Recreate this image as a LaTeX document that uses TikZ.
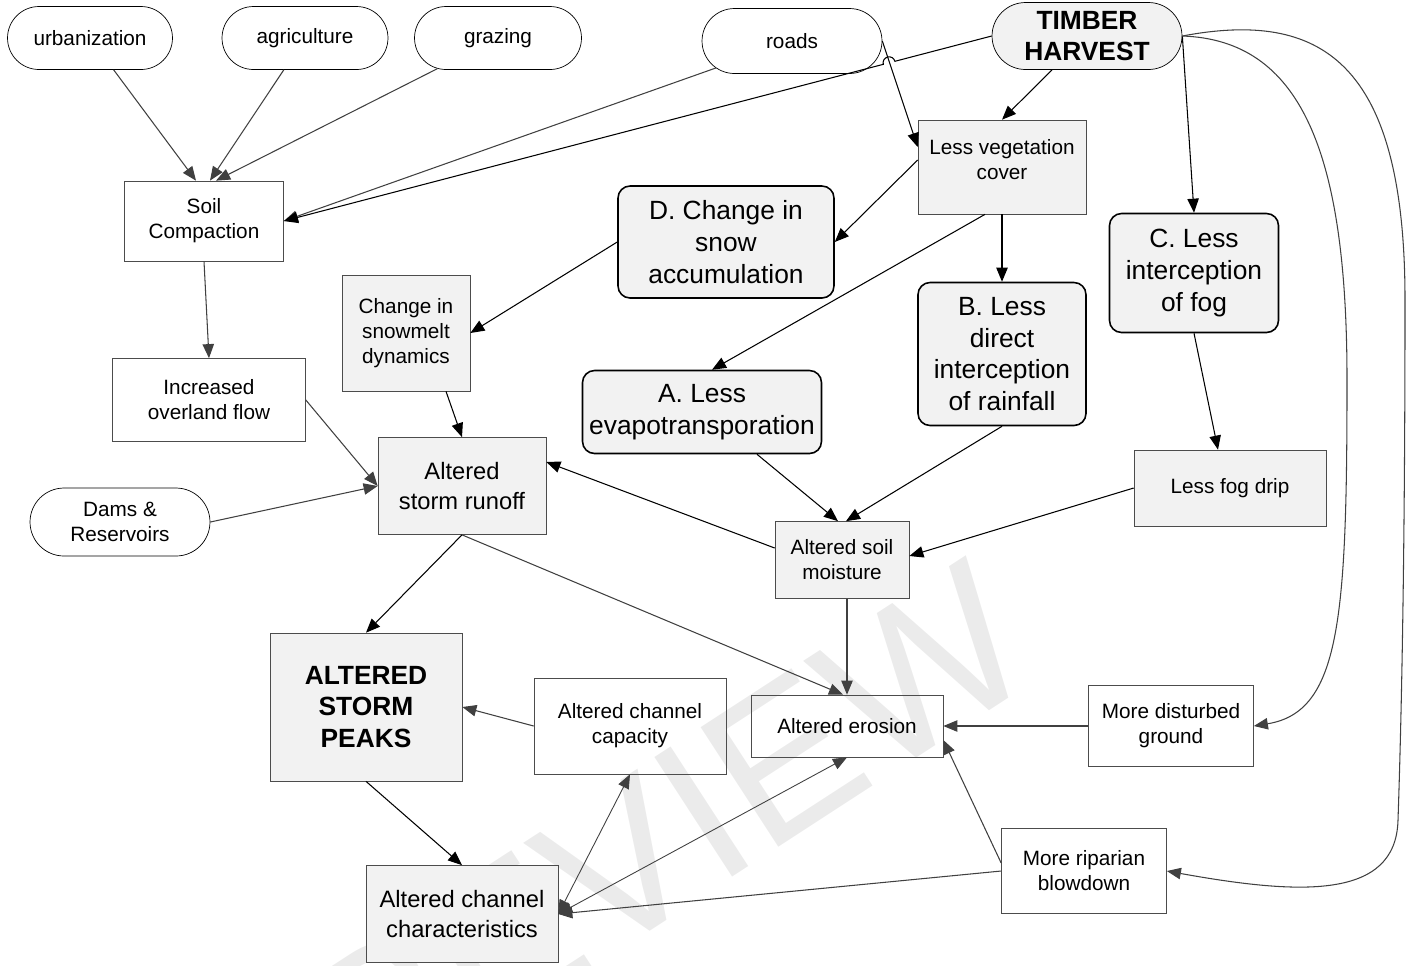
\documentclass[tikz,border=0pt]{standalone}
\usepackage{fontspec}
\setmainfont{Liberation Sans}
\usetikzlibrary{shapes.misc, arrows.meta, calc}

\newcommand{\smallsz}{\fontsize{11.8}{14.2}\selectfont}
\newcommand{\midsz}{\fontsize{13.5}{17}\selectfont}
\newcommand{\bigsz}{\fontsize{15}{18}\selectfont}

\begin{document}
\begin{tikzpicture}[x=0.02cm, y=-0.02cm,
    wh/.style 2 args={minimum width=#1cm, minimum height=#2cm},
    cause/.style={draw, rounded rectangle, inner sep=0pt, align=center, font=\smallsz},
    box/.style={draw=black!70, rectangle, inner sep=0pt, align=center, font=\smallsz},
    grey/.style={fill=black!5},
    effect/.style={draw, line width=0.9pt, rectangle, rounded corners=0.24cm, fill=black!5,
                   inner sep=0pt, align=center, font=\bigsz},
    arr/.style={-{Triangle[length=8pt,width=6.5pt]}, line width=0.6pt},
    garr/.style={arr, draw=black!75},
    dbl/.style={{Triangle[length=8pt,width=6.5pt]}-{Triangle[length=8pt,width=6.5pt]},
                line width=0.5pt, draw=black!75}
  ]
  \useasboundingbox (0,0) rectangle (1416,965);

  % watermark
  \begin{scope}
    \clip (0,0) rectangle (1416,965);
    \node[rotate=33, text=black!8, font=\fontsize{118}{118}\selectfont] (mark) at (605,875) {PREVIEW};
  \end{scope}

  % Ursachen
  \node[cause, wh={3.3}{1.26}]  (urban) at (90,38)  {urbanization};
  \node[cause, wh={3.32}{1.26}] (agri)  at (305,38) {agriculture};
  \node[cause, wh={3.34}{1.26}] (graze) at (498,38) {grazing};
  \node[cause, wh={3.6}{1.3}]   (roads) at (792,41) {roads};
  \node[cause, grey, wh={3.8}{1.34}, font=\bigsz\bfseries] (timber) at (1087,36) {TIMBER\\HARVEST};
  \node[cause, wh={3.6}{1.36}]  (dams)  at (120,522) {Dams \&\\Reservoirs};

  % Prozesse
  \node[box, grey, wh={3.36}{1.88}, text depth=9pt] (veg) at (1002,167) {Less vegetation\\cover};
  \node[box, wh={3.18}{1.6}]        (soil) at (204,221)  {Soil\\Compaction};
  \node[effect, wh={4.32}{2.24}]    (snow) at (726,242)  {D. Change in\\snow\\accumulation};
  \node[effect, wh={3.38}{2.38}]    (fog)  at (1194,273) {C. Less\\interception\\of fog};
  \node[box, grey, wh={2.56}{2.32}] (melt) at (406,333)  {Change in\\snowmelt\\dynamics};
  \node[effect, wh={3.36}{2.86}]    (rain) at (1002,354) {B. Less\\direct\\interception\\of rainfall};
  \node[box, wh={3.86}{1.66}]       (overland) at (209,400) {Increased\\overland flow};
  \node[effect, wh={4.78}{1.66}]    (evap) at (702,412)  {A. Less\\evapotransporation};
  \node[box, grey, wh={3.36}{1.94}, font=\midsz] (runoff) at (462,486) {Altered\\storm runoff};
  \node[box, grey, wh={3.84}{1.52}] (drip)  at (1230,488) {Less fog drip};
  \node[box, grey, wh={2.68}{1.54}] (moist) at (842,560)  {Altered soil\\moisture};

  % Folgen
  \node[box, grey, wh={3.84}{2.96}, font=\bigsz\bfseries] (peaks) at (366,707) {ALTERED\\STORM\\PEAKS};
  \node[box, wh={3.84}{1.92}]       (capac)   at (630,726)  {Altered channel\\capacity};
  \node[box, wh={3.84}{1.24}]       (erosion) at (847,726)  {Altered erosion};
  \node[box, wh={3.3}{1.62}]        (ground)  at (1171,726) {More disturbed\\ground};
  \node[box, grey, wh={3.84}{1.94}, font=\midsz] (channel) at (462,914) {Altered channel\\characteristics};
  \node[box, wh={3.3}{1.7}]         (blow)    at (1084,871) {More riparian\\blowdown};

  % Verbindungen oben
  \draw[garr] (urban) -- ($(soil.north)+(-8,0)$);
  \draw[garr] (agri)  -- ($(soil.north)+(6,0)$);
  \draw[garr] (graze) -- ($(soil.north)+(12,0)$);
  \draw[garr] (roads) -- (soil.east);
  \draw[arr] (timber.west) -- ($(timber.west)!0.1367!(soil.east)$)
    arc[start angle=14.6, end angle=194.6, radius=0.12cm] -- (soil.east);
  \draw[arr] (roads.east) -- ($(veg.west)+(0,-20)$);
  \draw[arr] ($(timber.south)+(-35,0)$) -- (veg.north);
  \draw[arr] (timber.east) -- (fog.north);
  \draw[garr] (timber.east) .. controls (1300,40) and (1347,150) .. (1347,380)
    .. controls (1347,620) and (1340,712) .. (ground.east);
  \draw[garr] (timber.east) .. controls (1320,10) and (1405,60) .. (1405,300)
    .. controls (1405,600) and (1400,760) .. (1398,820)
    .. controls (1396,900) and (1300,895) .. (blow.east);

  % Vegetation
  \draw[arr] ($(veg.west)+(0,-7)$) -- (snow.east);
  \draw[arr] ($(veg.south)+(-17,0)$) -- ($(evap.north)+(10,0)$);
  \draw[arr] (veg.south) -- (rain.north);
  \draw[arr] (snow.west) -- (melt.east);
  \draw[arr] (fog.south) -- ($(drip.north)+(-12,0)$);

  % Abfluss
  \draw[garr] (soil.south) -- (overland.north);
  \draw[garr] (overland.east) -- (runoff.west);
  \draw[garr] (dams.east) -- (runoff.west);
  \draw[arr] ($(melt.south)+(40,0)$) -- (runoff.north);
  \draw[arr] ($(evap.south)+(55,0)$) -- ($(moist.north)+(-4,0)$);
  \draw[arr] (rain.south) -- ($(moist.north)+(4,0)$);
  \draw[arr] (drip.west) -- ($(moist.east)+(0,-4)$);
  \draw[arr] ($(moist.west)+(0,-12)$) -- ($(runoff.east)+(0,-24)$);
  \draw[garr] ($(moist.south)+(5,0)$) -- (erosion.north);
  \draw[arr] (runoff.south) -- (peaks.north);
  \draw[garr] (runoff.south) -- ($(erosion.north)+(-4,0)$);

  % Gerinne
  \draw[garr] (capac.west) -- (peaks.east);
  \draw[garr] (ground.west) -- (erosion.east);
  \draw[garr] ($(blow.west)+(0,-8)$) -- ($(erosion.east)+(0,14)$);
  \draw[garr] (blow.west) -- (channel.east);
  \draw[arr] (peaks.south) -- (channel.north);
  \draw[dbl] (channel.east) -- (capac.south);
  \draw[dbl] (channel.east) -- (erosion.south);
\end{tikzpicture}
\end{document}
